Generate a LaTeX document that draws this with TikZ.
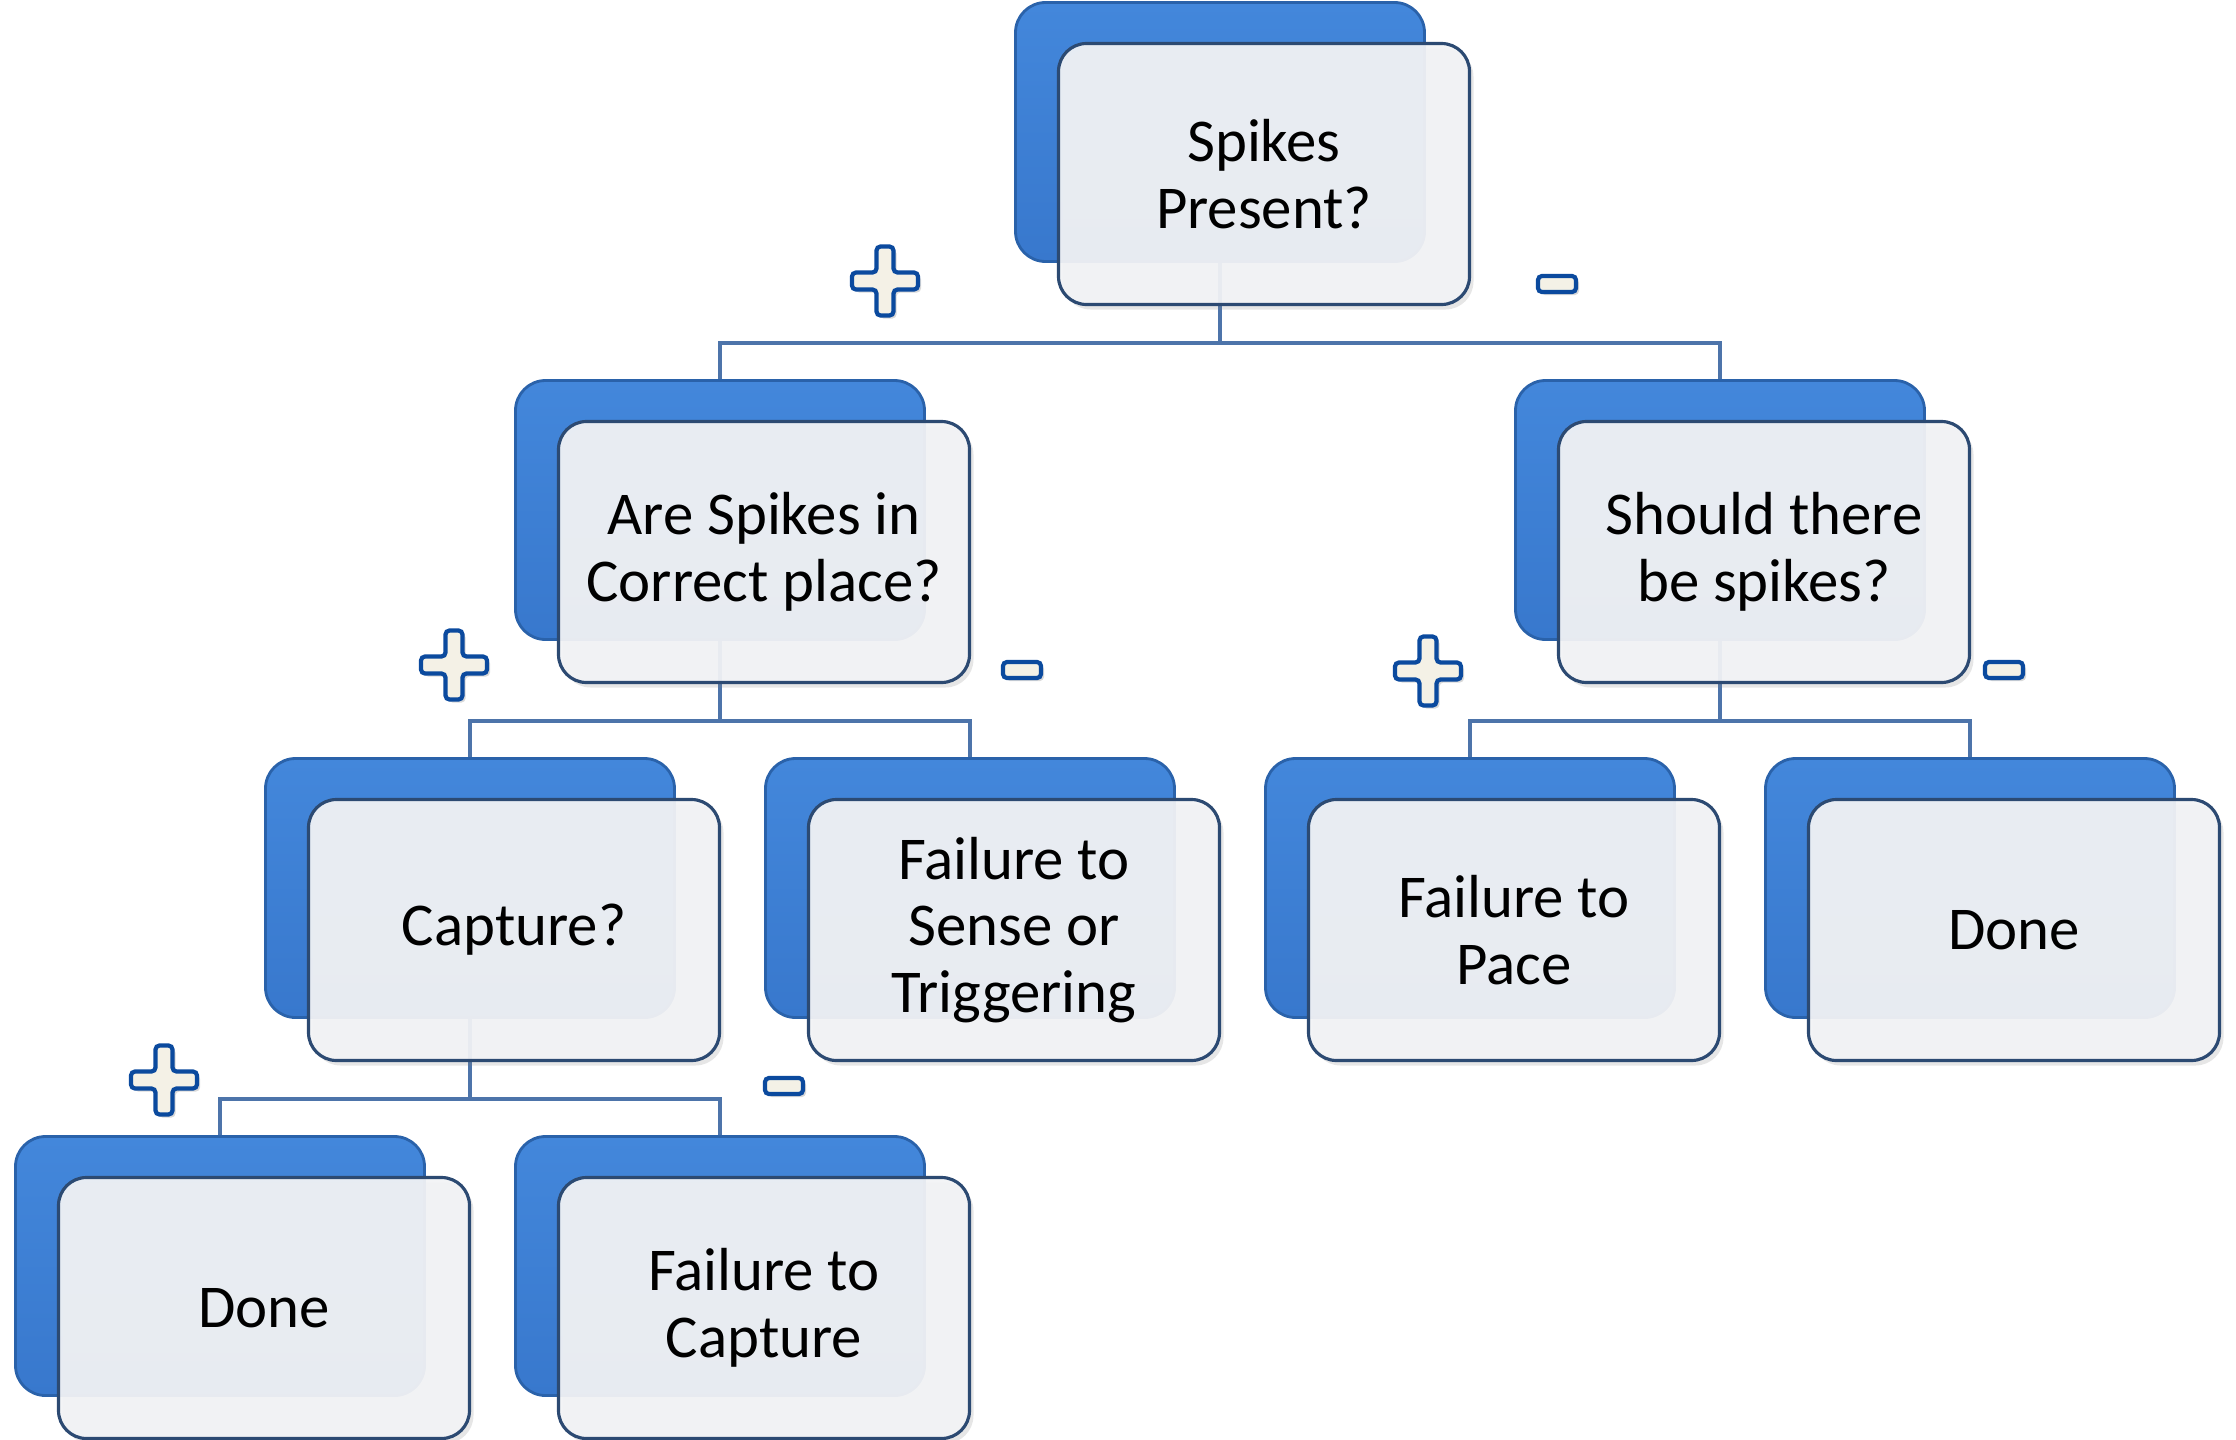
\documentclass[tikz,border=0pt]{standalone}
\usepackage{fontspec}
\setmainfont{Carlito}
\usepackage{tikz}
\usetikzlibrary{shadows}
\definecolor{boxblue}{HTML}{3878CD}
\definecolor{boxblueTop}{HTML}{4387DB}
\definecolor{boxedge}{HTML}{2A62AA}
\definecolor{frontfill}{HTML}{F2F3F5}
\definecolor{frontedge}{HTML}{2C4A72}
\definecolor{connblue}{HTML}{4D74AA}
\definecolor{signfill}{HTML}{F4F1E6}
\definecolor{signedge}{HTML}{0B4A9E}
\pgfdeclarelayer{bg}
\pgfsetlayers{bg,main}
\tikzset{
  backbox/.style={rectangle, rounded corners=0.3cm, minimum width=4.09cm,
    minimum height=2.59cm, inner sep=0pt, draw=boxedge, line width=0.8pt,
    top color=boxblueTop, bottom color=boxblue},
  frontbox/.style={rectangle, rounded corners=0.28cm, minimum width=4.11cm,
    minimum height=2.61cm, inner sep=0pt, draw=frontedge, line width=0.9pt,
    fill=frontfill, fill opacity=0.94, text opacity=1, align=center,
    font=\fontsize{17.3}{19}\selectfont,
    drop shadow={opacity=0.2, shadow xshift=0.04cm, shadow yshift=-0.05cm}},
  conn/.style={draw=connblue, line width=1.15pt},
  signline/.style={draw=signedge, line width=1.2pt, fill=signfill,
    rounded corners=0.04cm,
    drop shadow={opacity=0.3, shadow xshift=0.03cm, shadow yshift=-0.03cm}},
  plusmark/.pic={
    \path[signline] (-0.085,0.345) -- (0.085,0.345) -- (0.085,0.085)
      -- (0.33,0.085) -- (0.33,-0.085) -- (0.085,-0.085) -- (0.085,-0.345)
      -- (-0.085,-0.345) -- (-0.085,-0.085) -- (-0.33,-0.085)
      -- (-0.33,0.085) -- (-0.085,0.085) -- cycle;
  },
  minusmark/.pic={
    \path[signline] (-0.19,-0.08) rectangle (0.19,0.08);
  }
}
\begin{document}
\begin{tikzpicture}
\useasboundingbox (0,0) rectangle (22.36,-14.40);
% level 1
\node[backbox] (spk-b) at (12.20,-1.32) {};
\node[frontbox] (spk) at ([shift={(0.44,-0.42)}]spk-b) {Spikes\\Present?};
% level 2
\node[backbox] (place-b) at (7.20,-5.10) {};
\node[frontbox] (place) at ([shift={(0.44,-0.42)}]place-b) {Are Spikes in\\Correct place?};
\node[backbox] (should-b) at (17.20,-5.10) {};
\node[frontbox] (should) at ([shift={(0.44,-0.42)}]should-b) {Should there\\be spikes?};
% level 3
\node[backbox] (capt-b) at (4.70,-8.88) {};
\node[frontbox] (capt) at ([shift={(0.44,-0.42)}]capt-b) {Capture?};
\node[backbox] (sense-b) at (9.70,-8.88) {};
\node[frontbox] (sense) at ([shift={(0.44,-0.42)}]sense-b) {Failure to\\Sense or\\Triggering};
\node[backbox] (pace-b) at (14.70,-8.88) {};
\node[frontbox] (pace) at ([shift={(0.44,-0.42)}]pace-b) {Failure to\\Pace};
\node[backbox] (doneR-b) at (19.70,-8.88) {};
\node[frontbox] (doneR) at ([shift={(0.44,-0.42)}]doneR-b) {Done};
% level 4
\node[backbox] (doneL-b) at (2.20,-12.66) {};
\node[frontbox] (doneL) at ([shift={(0.44,-0.42)}]doneL-b) {Done};
\node[backbox] (fcapt-b) at (7.20,-12.66) {};
\node[frontbox] (fcapt) at ([shift={(0.44,-0.42)}]fcapt-b) {Failure to\\Capture};
%
\coordinate (spk-j) at ([yshift=-0.80cm]spk-b.south);
\coordinate (place-j) at ([yshift=-0.80cm]place-b.south);
\coordinate (should-j) at ([yshift=-0.80cm]should-b.south);
\coordinate (capt-j) at ([yshift=-0.80cm]capt-b.south);
\begin{pgfonlayer}{bg}
\draw[conn] (spk-b.south) -- (spk-j) -| (place-b.north);
\draw[conn] (spk-j) -| (should-b.north);
\draw[conn] (place-b.south) -- (place-j) -| (capt-b.north);
\draw[conn] (place-j) -| (sense-b.north);
\draw[conn] (should-b.south) -- (should-j) -| (pace-b.north);
\draw[conn] (should-j) -| (doneR-b.north);
\draw[conn] (capt-b.south) -- (capt-j) -| (doneL-b.north);
\draw[conn] (capt-j) -| (fcapt-b.north);
\end{pgfonlayer}
% yes / no marks
\pic at (8.85,-2.81) {plusmark};
\pic at (15.57,-2.84) {minusmark};
\pic at (4.54,-6.65) {plusmark};
\pic at (10.22,-6.70) {minusmark};
\pic at (14.28,-6.71) {plusmark};
\pic at (20.04,-6.70) {minusmark};
\pic at (1.64,-10.80) {plusmark};
\pic at (7.84,-10.86) {minusmark};
\end{tikzpicture}
\end{document}
